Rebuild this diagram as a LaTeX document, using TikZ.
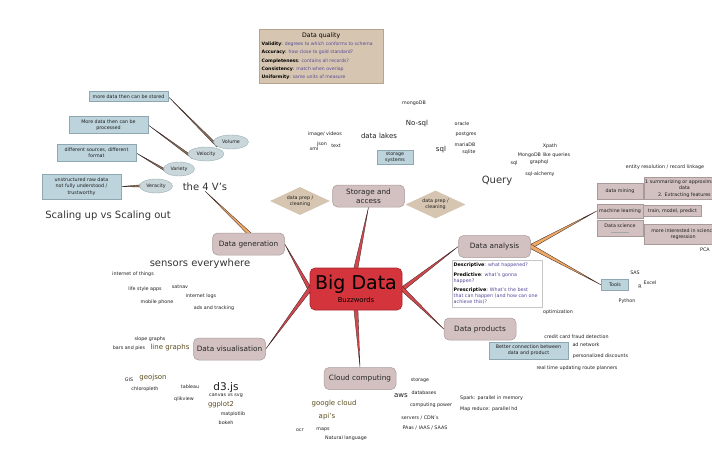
\documentclass[tikz,border=0pt]{standalone}
\usepackage{fontspec}
\setmainfont{DejaVu Sans}
\usetikzlibrary{calc,positioning,shapes.geometric,backgrounds}
\definecolor{corefill}{HTML}{D4353D}
\definecolor{coredraw}{HTML}{A3252C}
\definecolor{topicfill}{HTML}{D3C1C1}
\definecolor{topicdraw}{HTML}{A99A9A}
\definecolor{tanfill}{HTML}{D6C6B1}
\definecolor{tandraw}{HTML}{B5A58F}
\definecolor{notefill}{HTML}{BDD4DC}
\definecolor{notedraw}{HTML}{8EA7B0}
\definecolor{veefill}{HTML}{C9D6DA}
\definecolor{veedraw}{HTML}{9AAEB4}
\definecolor{wordtext}{HTML}{1E1E1E}
\definecolor{olivetext}{HTML}{5A4C20}
\definecolor{desctext}{HTML}{54489A}
\definecolor{branchred}{HTML}{D6474D}
\definecolor{branchorange}{HTML}{F1A862}
\definecolor{branchbrown}{HTML}{92735A}
\definecolor{branchline}{HTML}{3B2B2B}

\newcommand{\smallfont}{\fontsize{4.8}{6.2}\selectfont}
% tapered branch: wide end sunk into #1, tip at #2, half width #3, fill #4
\newcommand{\branch}[4]{%
  \coordinate (b0) at ($(#1)!-6pt!(#2)$);
  \filldraw[draw=branchline, fill=#4, line width=0.35pt, line join=round]
    ($(b0)!#3!90:(#2)$) -- (#2) -- ($(b0)!#3!-90:(#2)$) -- cycle;}

\begin{document}
\begin{tikzpicture}[x=1pt, y=-1pt,
    core/.style={draw=coredraw, fill=corefill, rounded corners=5pt, line width=0.6pt,
      minimum width=92pt, minimum height=42pt, align=center, inner sep=0pt},
    topic/.style={draw=topicdraw, fill=topicfill, rounded corners=5pt, line width=0.5pt,
      minimum width=72pt, minimum height=22pt, align=center, inner sep=1pt,
      font=\fontsize{7.3}{9}\selectfont, text=black!85},
    subtopic/.style={draw=topicdraw, fill=topicfill, line width=0.4pt, align=center,
      inner sep=1pt, font=\smallfont, text=wordtext},
    note/.style={draw=notedraw, fill=notefill, line width=0.4pt, align=center,
      inner sep=1.5pt, font=\smallfont, text=wordtext},
    vee/.style={ellipse, draw=veedraw, fill=veefill, line width=0.4pt, inner sep=0pt,
      minimum height=14pt, font=\smallfont, text=wordtext},
    prep/.style={diamond, aspect=2, fill=tanfill, inner sep=0pt, minimum width=60pt,
      minimum height=28pt, align=center, font=\smallfont, text=wordtext},
    word/.style={inner sep=0pt, font=\smallfont, text=wordtext},
    keyword/.style={inner sep=0pt, font=\fontsize{7}{8}\selectfont, text=#1},
    keyword/.default=wordtext,
    headline/.style={inner sep=0pt, font=\fontsize{10}{11}\selectfont, text=black!80}]

  \useasboundingbox (0,0) rectangle (712,468);

  % central topic
  \node[core] (big) at (356,289)
    {\fontsize{19}{19}\selectfont Big Data\\[1pt]\fontsize{6.8}{8}\selectfont Buzzwords};

  % main topics
  \node[topic] (store) at (368.5,196) {Storage and\\access};
  \node[topic] (gen) at (248.5,244) {Data generation};
  \node[topic] (dan) at (494.5,246.5) {Data analysis};
  \node[topic] (dprod) at (480,329) {Data products};
  \node[topic] (dvis) at (229.5,349) {Data visualisation};
  \node[topic] (cloud) at (360,378.5) {Cloud computing};

  % data prep diamonds either side of storage
  \node[prep] (prepL) at (300,201) {data prep /\\cleaning};
  \node[prep] (prepR) at (435.5,204.5) {data prep /\\cleaning};

  % data quality
  \node[draw=tandraw, fill=tanfill, line width=0.4pt, inner xsep=2.5pt, inner ysep=3.5pt,
    anchor=north west] (quality) at (259,29) {\parbox{119pt}{\centering
      \fontsize{6.2}{8.2}\selectfont Data quality\par\raggedright
      \fontsize{4.6}{8.2}\selectfont
      \textbf{Validity}: \textcolor{desctext}{degrees to which conforms to schema}\\
      \textbf{Accuracy}: \textcolor{desctext}{how close to gold standard?}\\
      \textbf{Completeness}: \textcolor{desctext}{contains all records?}\\
      \textbf{Consistency}: \textcolor{desctext}{match when overlap}\\
      \textbf{Uniformity}: \textcolor{desctext}{same units of measure}}};

  % the 4 V's
  \node[vee, minimum width=35pt] (vol) at (231,142) {Volume};
  \node[vee, minimum width=36pt] (vel) at (206,154) {Velocity};
  \node[vee, minimum width=31pt] (var) at (179,169) {Variety};
  \node[vee, minimum width=33pt] (ver) at (156,186) {Veracity};
  \node[note, minimum width=79pt, minimum height=10pt] (vstore) at (128.5,96.5)
    {more data then can be stored};
  \node[note, minimum width=79pt, minimum height=17pt] (vproc) at (108.5,125)
    {More data then can be\\processed};
  \node[note, minimum width=79pt, minimum height=17pt] (vform) at (96.5,153)
    {different sources, different\\format};
  \node[note, minimum width=79pt, minimum height=25pt] (vtrust) at (81.5,186.5)
    {unstructured raw data\\not fully understood /\\trustworthy};
  \node[headline] (v4) at (205,187) {the 4 V's};
  \node[headline] (scale) at (108,216) {Scaling up vs Scaling out};

  % storage and access
  \node[keyword] (nosql) at (417,124) {No-sql};
  \node[keyword] (sqlA) at (441,150) {sql};
  \node[keyword] (lakes) at (379,136) {data lakes};
  \node[note, minimum width=36pt, minimum height=14pt] (stsys) at (395,157)
    {storage\\systems};
  \foreach \x/\y/\txt [count=\i] in {414/103/mongoDB, 462/124/oracle, 466/134/postgres,
      465/145/mariaDB, 469/152/sqlite, 325/134/{image/ videos}, 322/144/json,
      314/149/xml, 336/146/text}
    \node[word] (st\i) at (\x,\y) {\txt};

  % query
  \node[headline] (query) at (497,181) {Query};
  \foreach \x/\y/\txt [count=\i] in {550/146/Xpath, 544/155/{MongoDB like queries},
      539/162/graphql, 514/163/sql, 540/174/sql-alchemy}
    \node[word] (qu\i) at (\x,\y) {\txt};

  % data analysis
  \node[word] (entity) at (665,167) {entity resolution / record linkage};
  \node[subtopic, minimum width=46pt, minimum height=16pt] (dmine) at (620,191) {data mining};
  \node[subtopic, minimum width=78pt, minimum height=22pt, anchor=west] (dsum) at (644,188.5)
    {1 summarizing or approximating\\data\\2. Extracting features};
  \node[subtopic, minimum width=46pt, minimum height=14pt] (mlearn) at (620,211)
    {machine learning};
  \node[subtopic, minimum width=58pt, minimum height=11pt, right=0pt of mlearn] (mtrain)
    {train, model, predict};
  \node[subtopic, minimum width=46pt, minimum height=16pt, text height=3.5pt, text depth=5pt]
    (dsci) at (620,228) {Data science};
  \draw[gray!70, line width=0.3pt, dash pattern=on 0.5pt off 0.5pt]
    ($(dsci.south)+(-9,-4)$) -- ++(18,0);
  \node[subtopic, minimum width=78pt, minimum height=20pt, anchor=west] (dsint) at (644,234)
    {more interested in science\\regression};
  \node[note, minimum width=27pt, minimum height=11pt] (tools) at (615,285) {Tools};
  \foreach \x/\y/\txt [count=\i] in {705/250/PCA, 635/273/SAS, 650/283/Excel, 640/287/R,
      627/301/Python, 558/312/optimization}
    \node[word] (an\i) at (\x,\y) {\txt};
  \node[draw=gray!45, fill=white, line width=0.4pt, inner xsep=1.5pt, inner ysep=3pt,
    anchor=north west] (kinds) at (452,260) {\parbox{87pt}{\raggedright
      \fontsize{4.8}{6.2}\selectfont\setlength{\parskip}{3pt}%
      \textbf{Descriptive}: \textcolor{desctext}{what happened?}\par
      \textbf{Predictive}: \textcolor{desctext}{what's gonna\\happen?}\par
      \textbf{Prescriptive}: \textcolor{desctext}{What's the best\\that can happen
        (and how can one\\achieve this)?}}};

  % data products
  \node[note, minimum width=79pt, minimum height=17pt] (better) at (528.5,350.5)
    {Better connection between\\data and product};
  \foreach \x/\y/\txt [count=\i] in {576.5/337/{credit card fraud detection},
      586/345/{ad network}, 600.5/356/{personalized discounts},
      577/368/{real time updating route planners}}
    \node[word] (pr\i) at (\x,\y) {\txt};

  % cloud computing
  \node[keyword] (aws) at (401,396) {aws};
  \node[keyword=olivetext] (gcloud) at (334,404) {google cloud};
  \node[keyword=olivetext] (apis) at (327,417) {api's};
  \node[word, anchor=west] (spark) at (460,398.5) {Spark: parallel in memory};
  \node[word, anchor=west] (mapred) at (460,409) {Map reduce: parallel hd};
  \foreach \x/\y/\txt [count=\i] in {420/380/storage, 424/393/databases,
      431/405/{computing power}, 420/418/{servers / CDN's}, 425/428/{PAas / IAAS / SAAS},
      300/430/ocr, 323/430/maps, 346/438/{Natural language}}
    \node[word] (cl\i) at (\x,\y) {\txt};

  % data generation
  \node[headline] (sensors) at (200,264) {sensors everywhere};
  \foreach \x/\y/\txt [count=\i] in {133/274/{internet of things}, 145/289/{life style apps},
      180/287/satnav, 201/296/{internet logs}, 157/302/{mobile phone},
      214/308/{ads and tracking}}
    \node[word] (ge\i) at (\x,\y) {\txt};

  % data visualisation
  \node[keyword=olivetext] (lines) at (170,348) {line graphs};
  \node[keyword=olivetext] (geojson) at (153,378) {geojson};
  \node[keyword=olivetext, font=\fontsize{6.8}{8}\selectfont] (ggplot) at (221,405) {ggplot2};
  \node[headline, font=\fontsize{10.5}{11}\selectfont, text=wordtext] (d3) at (226,388) {d3.js};
  \foreach \x/\y/\txt [count=\i] in {150/339/{slope graphs}, 129/348/{bars and pies},
      129/380/GIS, 145/389/chloropleth, 190/387/tableau, 184/399/qlikview,
      226/396/{canvas vs svg}, 233/414/matplotlib, 226/423/bokeh}
    \node[word] (vi\i) at (\x,\y) {\txt};

  % branches behind the nodes
  \begin{scope}[on background layer]
    \branch{big.north}{store.south}{2.2pt}{branchred}
    \branch{big.west}{gen.east}{2.2pt}{branchred}
    \branch{big.west}{dvis.east}{2.2pt}{branchred}
    \branch{big.east}{dan.west}{2.2pt}{branchred}
    \branch{big.east}{dprod.west}{2.2pt}{branchred}
    \branch{big.south}{cloud.north}{2.2pt}{branchred}
    \branch{dan.east}{mlearn.west}{2.2pt}{branchorange}
    \branch{dan.east}{tools.west}{2.2pt}{branchorange}
    \branch{gen.north}{v4.south}{1.8pt}{branchorange}
    \branch{vol.west}{vstore.east}{1.1pt}{branchbrown}
    \branch{vel.west}{vproc.east}{1.1pt}{branchbrown}
    \branch{var.west}{vform.east}{1.1pt}{branchbrown}
    \branch{ver.west}{vtrust.east}{1.4pt}{branchbrown}
  \end{scope}
\end{tikzpicture}
\end{document}
